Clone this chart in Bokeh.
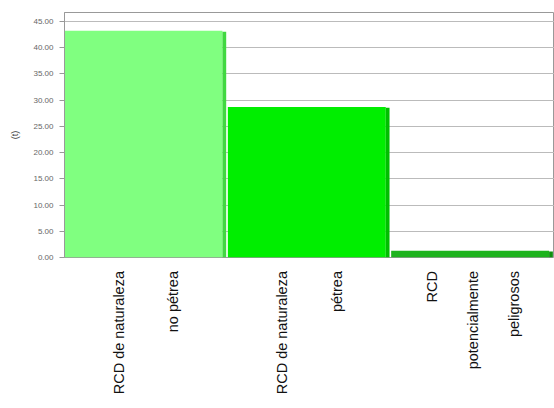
import math
from bokeh.plotting import figure
from bokeh.layouts import column
from bokeh.models import ColumnDataSource, Range1d, FixedTicker, NumeralTickFormatter
from bokeh.core.properties import value
from bokeh.embed import file_html
from bokeh.resources import INLINE

# data
categories = [["RCD de naturaleza", "no pétrea"],
              ["RCD de naturaleza", "pétrea"],
              ["RCD", "potencialmente", "peligrosos"]]
values = [43.2, 28.7, 1.3]
face_colors = ["#80FF80", "#00EE00", "#1DB31D"]
side_colors = ["#40D840", "#00BE00", "#0F8F0F"]
y_ticks = [0, 5, 10, 15, 20, 25, 30, 35, 40, 45]

n = len(values)
xr = Range1d(0, n)
p = figure(width=554, height=265, output_backend="svg", toolbar_location=None,
           x_range=xr, y_range=Range1d(0, 46.7),
           min_border_left=64, min_border_right=0, min_border_top=12, min_border_bottom=8)

idx = list(range(n))
src = ColumnDataSource(dict(
    left=[i + 0.0 for i in idx],
    right=[i + 0.967 for i in idx],
    sleft=[i + 0.967 for i in idx],
    sright=[i + 0.99 for i in idx],
    top=values,
    stop=[v - 0.15 for v in values],
    face=face_colors,
    side=side_colors,
))
p.quad(left="left", right="right", bottom=0, top="top", fill_color="face", line_color=None, source=src)
p.quad(left="sleft", right="sright", bottom=0, top="stop", fill_color="side", line_color=None, source=src)

p.xaxis.visible = False
p.xgrid.visible = False
p.ygrid.ticker = FixedTicker(ticks=y_ticks)
p.ygrid.grid_line_color = "#bbbbbb"
p.yaxis.ticker = FixedTicker(ticks=y_ticks)
p.yaxis.formatter = NumeralTickFormatter(format="0.00")
p.yaxis.axis_label = "(t)"
p.yaxis.axis_label_text_font = "Liberation Sans"
p.yaxis.axis_label_text_font_style = "normal"
p.yaxis.axis_label_text_font_size = "9px"
p.yaxis.axis_label_text_color = "#333333"
p.yaxis.axis_label_standoff = 10
p.yaxis.major_label_text_font = "Liberation Sans"
p.yaxis.major_label_text_font_size = "8px"
p.yaxis.major_label_text_color = "#666666"
p.yaxis.major_label_standoff = 6
p.yaxis.major_tick_out = 5
p.yaxis.major_tick_in = 0
p.yaxis.minor_tick_line_color = None
p.yaxis.axis_line_color = "#999999"
p.yaxis.major_tick_line_color = "#999999"
p.outline_line_color = "#999999"
p.background_fill_color = "white"
p.border_fill_color = "white"

# category labels panel, lines spread across the category
lx, lt = [], []
for i, lines in enumerate(categories):
    m = len(lines)
    for k, t in enumerate(lines):
        lx.append(i + (k + 1) / (m + 1))
        lt.append(t)
lsrc = ColumnDataSource(dict(x=lx, y=[1.0] * len(lx), text=lt))
q = figure(width=554, height=143, output_backend="svg", toolbar_location=None,
           x_range=xr, y_range=Range1d(0, 1.04),
           min_border_left=64, min_border_right=0, min_border_top=0, min_border_bottom=0)
q.text(x="x", y="y", text="text", source=lsrc, angle=math.pi / 2,
       text_align="right", text_baseline="middle",
       text_font=value("Liberation Sans"), text_font_size="14.5px", text_color="#111111")
q.axis.visible = False
q.grid.visible = False
q.outline_line_color = None
q.background_fill_color = "white"
q.border_fill_color = "white"

layout = column(p, q, spacing=0)
open("out.html", "w").write(file_html(layout, INLINE))
